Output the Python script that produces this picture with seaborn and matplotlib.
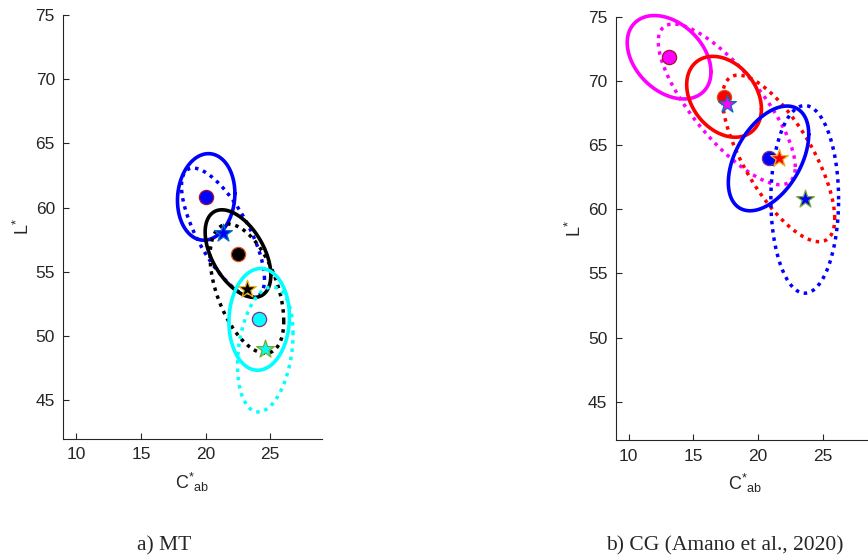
import numpy as np
import matplotlib
matplotlib.use("Agg")
import matplotlib.pyplot as plt
import seaborn as sns

# ---------------- data ----------------
# panel a) MT : dots (solid ellipse) and stars (dotted ellipse)
mt_colors = ["blue", "black", "cyan"]
mt_dot_x = [20.05, 22.51, 24.15]
mt_dot_y = [60.84, 56.43, 51.31]
mt_dot_sx = [2.22, 2.54, 2.34]
mt_dot_sy = [3.37, 3.41, 3.96]
mt_dot_rho = [0.08, -0.49, 0.05]
mt_dot_edge = ["#A2142F", "#D95319", "#7E2F8E"]
mt_star_x = [21.35, 23.20, 24.62]
mt_star_y = [58.06, 53.70, 48.97]
mt_star_sx = [3.21, 2.85, 2.15]
mt_star_sy = [5.03, 5.03, 4.86]
mt_star_rho = [-0.72, -0.50, 0.25]
mt_star_edge = ["#0072BD", "#EDB120", "#77AC30"]

# panel b) CG (Amano et al., 2020)
cg_colors = ["magenta", "red", "blue"]
cg_dot_x = [13.13, 17.38, 20.82]
cg_dot_y = [71.84, 68.76, 63.96]
cg_dot_sx = [3.24, 2.89, 3.11]
cg_dot_sy = [3.25, 3.15, 4.08]
cg_dot_rho = [-0.35, -0.30, 0.46]
cg_dot_edge = ["#A2142F", "#D95319", "#7E2F8E"]
cg_star_x = [17.59, 21.60, 23.62]
cg_star_y = [68.17, 63.96, 60.77]
cg_star_sx = [5.30, 4.34, 2.62]
cg_star_sy = [6.26, 6.49, 7.31]
cg_star_rho = [-0.78, -0.72, 0.0]
cg_star_edge = ["#0072BD", "#EDB120", "#77AC30"]

x_ticks = [10, 15, 20, 25]
y_ticks = [45, 50, 55, 60, 65, 70, 75]
captions = ["a) MT", "b) CG (Amano et al., 2020)"]

# ---------------- style ----------------
sns.set_theme(style="white")
plt.rcParams["font.family"] = ["Liberation Sans", "DejaVu Sans"]
plt.rcParams["mathtext.fontset"] = "custom"
plt.rcParams["mathtext.rm"] = "Liberation Sans"
plt.rcParams["mathtext.it"] = "Liberation Sans:italic"

W, H = 868, 557
fig = plt.figure(figsize=(W / 100, H / 100), dpi=100)

def px_axes(left, top, right, bottom):
    return [left / W, 1 - bottom / H, (right - left) / W, (bottom - top) / H]

ax1 = fig.add_axes(px_axes(63.3, 15.0, 321.9, 439.0))
ax2 = fig.add_axes(px_axes(615.7, 16.7, 874.3, 440.3))

t = np.linspace(0, 2 * np.pi, 400)

def ellipse(ax, cx, cy, sx, sy, rho, color, dotted):
    ex = cx + sx * np.cos(t)
    ey = cy + sy * (rho * np.cos(t) + np.sqrt(1 - rho ** 2) * np.sin(t))
    if dotted:
        ax.plot(ex, ey, color=color, lw=2.5, dashes=(1, 1.4),
                dash_capstyle="butt", zorder=2, clip_on=False)
    else:
        ax.plot(ex, ey, color=color, lw=2.6, zorder=2, clip_on=False)

def panel(ax, colors, dx, dy, dsx, dsy, drho, dedge,
          sx_, sy_, ssx, ssy, srho, sedge):
    for i, c in enumerate(colors):
        ellipse(ax, dx[i], dy[i], dsx[i], dsy[i], drho[i], c, False)
        ellipse(ax, sx_[i], sy_[i], ssx[i], ssy[i], srho[i], c, True)
    for i, c in enumerate(colors):
        sns.scatterplot(x=[dx[i]], y=[dy[i]], ax=ax, color=c, marker="o",
                        s=105, edgecolor=dedge[i], linewidth=0.9, zorder=5,
                        clip_on=False)
    for i, c in enumerate(colors):
        sns.scatterplot(x=[sx_[i]], y=[sy_[i]], ax=ax, color=c, marker="*",
                        s=180, edgecolor=sedge[i], linewidth=0.9, zorder=6,
                        clip_on=False)

panel(ax1, mt_colors, mt_dot_x, mt_dot_y, mt_dot_sx, mt_dot_sy, mt_dot_rho,
      mt_dot_edge, mt_star_x, mt_star_y, mt_star_sx, mt_star_sy, mt_star_rho,
      mt_star_edge)
panel(ax2, cg_colors, cg_dot_x, cg_dot_y, cg_dot_sx, cg_dot_sy, cg_dot_rho,
      cg_dot_edge, cg_star_x, cg_star_y, cg_star_sx, cg_star_sy, cg_star_rho,
      cg_star_edge)

for ax in (ax1, ax2):
    ax.set_xlim(9, 29)
    ax.set_ylim(42, 75)
    ax.set_xticks(x_ticks)
    ax.set_yticks(y_ticks)
    ax.set_xticklabels([str(v) for v in x_ticks])
    ax.set_yticklabels([str(v) for v in y_ticks])
    sns.despine(ax=ax)
    for s in ("left", "bottom"):
        ax.spines[s].set_color("#262626")
        ax.spines[s].set_linewidth(0.8)
    ax.tick_params(direction="in", length=4, width=0.8, colors="#262626",
                   labelsize=12.5, pad=6, left=True, bottom=True)
    ax.set_xlabel(r"$\mathrm{C}^{*}{}_{\mathrm{ab}}$", fontsize=13,
                  color="#262626", labelpad=6)
    ax.set_ylabel(r"$\mathrm{L}^{*}$", fontsize=13, color="#262626",
                  labelpad=2)
    ax.set_facecolor("white")

fig.text(164 / W, 1 - 546 / H, captions[0], ha="center", va="center",
         fontsize=15.5, family=["Liberation Serif", "DejaVu Serif"])
fig.text(725 / W, 1 - 546 / H, captions[1], ha="center", va="center",
         fontsize=15.5, family=["Liberation Serif", "DejaVu Serif"])

fig.savefig("out.png", dpi=100, facecolor="white")
